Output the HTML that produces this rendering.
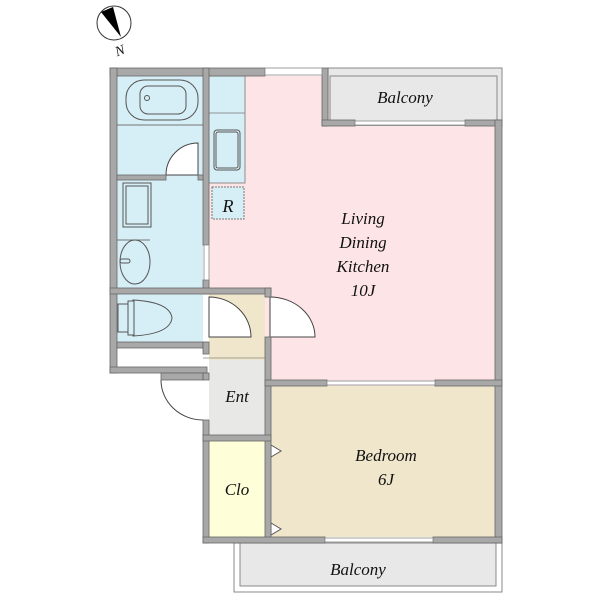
<!DOCTYPE html>
<html><head><style>body{margin:0;background:#fff}svg{display:block}text{font-family:"Liberation Serif",serif;font-style:italic;fill:#111}</style></head><body>
<svg width="600" height="600" viewBox="0 0 600 600">
<circle cx="114" cy="23" r="17" fill="#fff" stroke="#333" stroke-width="1"/>
<polygon points="101,12 113,7 121,37" fill="#000"/>
<text x="115" y="55" font-size="14" transform="rotate(-20 120 50)">N</text>
<rect x="328" y="68" width="174" height="58" fill="#e8e8e8" stroke="#888"/>
<rect x="330" y="76" width="167" height="46" fill="none" stroke="#888"/>
<rect x="234" y="543" width="268" height="49" fill="#fff" stroke="#888"/>
<rect x="240" y="543" width="256" height="43" fill="#e8e8e8" stroke="#888"/>
<rect x="209" y="76" width="113" height="310" fill="#fde4e6"/>
<rect x="322" y="126" width="173" height="260" fill="#fde4e6"/>
<rect x="117" y="76" width="86" height="292" fill="#d6eef5"/>
<rect x="117" y="348" width="86" height="19" fill="#fff"/>
<rect x="209" y="76" width="36" height="107" fill="#d6eef5" stroke="#777" stroke-width="0.8"/>
<line x1="209" y1="113" x2="245" y2="113" stroke="#777" stroke-width="0.8"/>
<rect x="214" y="130" width="26" height="40" rx="3" fill="none" stroke="#555"/>
<rect x="216" y="132" width="22" height="36" rx="2" fill="none" stroke="#555"/>
<rect x="212" y="187" width="32" height="32" fill="#d6eef5" stroke="#777" stroke-dasharray="2,1"/>
<rect x="209" y="294" width="56" height="66" fill="#f0e6cc"/>
<rect x="209" y="360" width="56" height="75" fill="#e8e8e6"/>
<rect x="209" y="441" width="59" height="96" fill="#fefed8"/>
<rect x="271" y="386" width="224" height="151" fill="#f0e6cc"/>
<line x1="117" y1="125" x2="203" y2="125" stroke="#777"/>
<rect x="126" y="80" width="72" height="40" rx="18" fill="none" stroke="#555"/>
<rect x="140" y="86" width="46" height="28" rx="8" fill="none" stroke="#555"/>
<circle cx="147" cy="98" r="2.5" fill="none" stroke="#555"/>
<rect x="123" y="183" width="28" height="44" fill="none" stroke="#555"/>
<rect x="126" y="186" width="22" height="38" fill="none" stroke="#555"/>
<line x1="117" y1="240" x2="150" y2="240" stroke="#777"/>
<ellipse cx="135" cy="262" rx="15" ry="22" fill="none" stroke="#555"/>
<rect x="120" y="259" width="10" height="4" rx="2" fill="none" stroke="#555"/>
<path d="M133,300 Q170,302 172,318 Q170,334 133,336 Z" fill="none" stroke="#555"/>
<rect x="118" y="304" width="14" height="28" fill="none" stroke="#555"/>
<rect x="128" y="301" width="6" height="34" fill="#d6eef5" stroke="#555"/>
<path d="M198,175 L166,175 A32,32 0 0 1 198,143 Z" fill="#fff" stroke="#444"/>
<path d="M209,297 A42,40 0 0 1 251,337 L209,337 Z" fill="#fff" stroke="#444"/>
<path d="M270,297 A45,40 0 0 1 315,337 L270,337 Z" fill="#fff" stroke="#444"/>
<path d="M203,420 A42,40 0 0 1 161,380" fill="none" stroke="#444"/>
<polygon points="271,445 281,451 271,457" fill="#fff" stroke="#555"/>
<polygon points="271,523 281,529 271,535" fill="#fff" stroke="#555"/>
<g fill="#a8a8a8" stroke="#666" stroke-width="0.8">
<rect x="110" y="68" width="155" height="8"/>
<rect x="110" y="68" width="7" height="305"/>
<rect x="110" y="367" width="97" height="6"/>
<rect x="203" y="68" width="6" height="177"/>
<rect x="203" y="280" width="6" height="14"/>
<rect x="117" y="175" width="49" height="5"/>
<rect x="198" y="175" width="5" height="5"/>
<rect x="110" y="288" width="161" height="6"/>
<rect x="117" y="342" width="86" height="6"/>
<rect x="203" y="342" width="6" height="12"/>
<rect x="322" y="68" width="6" height="58"/>
<rect x="322" y="120" width="33" height="6"/>
<rect x="465" y="120" width="37" height="6"/>
<rect x="495" y="120" width="7" height="423"/>
<rect x="265" y="288" width="6" height="9"/>
<rect x="265" y="337" width="6" height="206"/>
<rect x="265" y="380" width="62" height="6"/>
<rect x="435" y="380" width="67" height="6"/>
<rect x="203" y="373" width="6" height="7"/>
<rect x="203" y="420" width="6" height="123"/>
<rect x="203" y="435" width="68" height="6"/>
<rect x="203" y="537" width="122" height="6"/>
<rect x="433" y="537" width="69" height="6"/>
<rect x="161" y="373" width="42" height="7"/>
</g>
<g fill="#fff" stroke="#888" stroke-width="0.8">
<rect x="265" y="68" width="57" height="7"/>
<rect x="355" y="121" width="110" height="4"/>
<rect x="327" y="381" width="108" height="4"/>
<rect x="325" y="538" width="108" height="4"/>
<rect x="204" y="245" width="5" height="35"/>
<line x1="203" y1="358" x2="265" y2="358"/>
</g>
<text x="405" y="103" font-size="17" text-anchor="middle">Balcony</text>
<text x="228" y="212" font-size="18" text-anchor="middle">R</text>
<text x="363" y="224" font-size="17" text-anchor="middle">Living</text>
<text x="363" y="248" font-size="17" text-anchor="middle">Dining</text>
<text x="363" y="272" font-size="17" text-anchor="middle">Kitchen</text>
<text x="363" y="296" font-size="17" text-anchor="middle">10J</text>
<text x="237" y="402" font-size="17" text-anchor="middle">Ent</text>
<text x="386" y="461" font-size="17" text-anchor="middle">Bedroom</text>
<text x="386" y="485" font-size="17" text-anchor="middle">6J</text>
<text x="237" y="495" font-size="17" text-anchor="middle">Clo</text>
<text x="358" y="575" font-size="17" text-anchor="middle">Balcony</text>
</svg>
</body></html>
